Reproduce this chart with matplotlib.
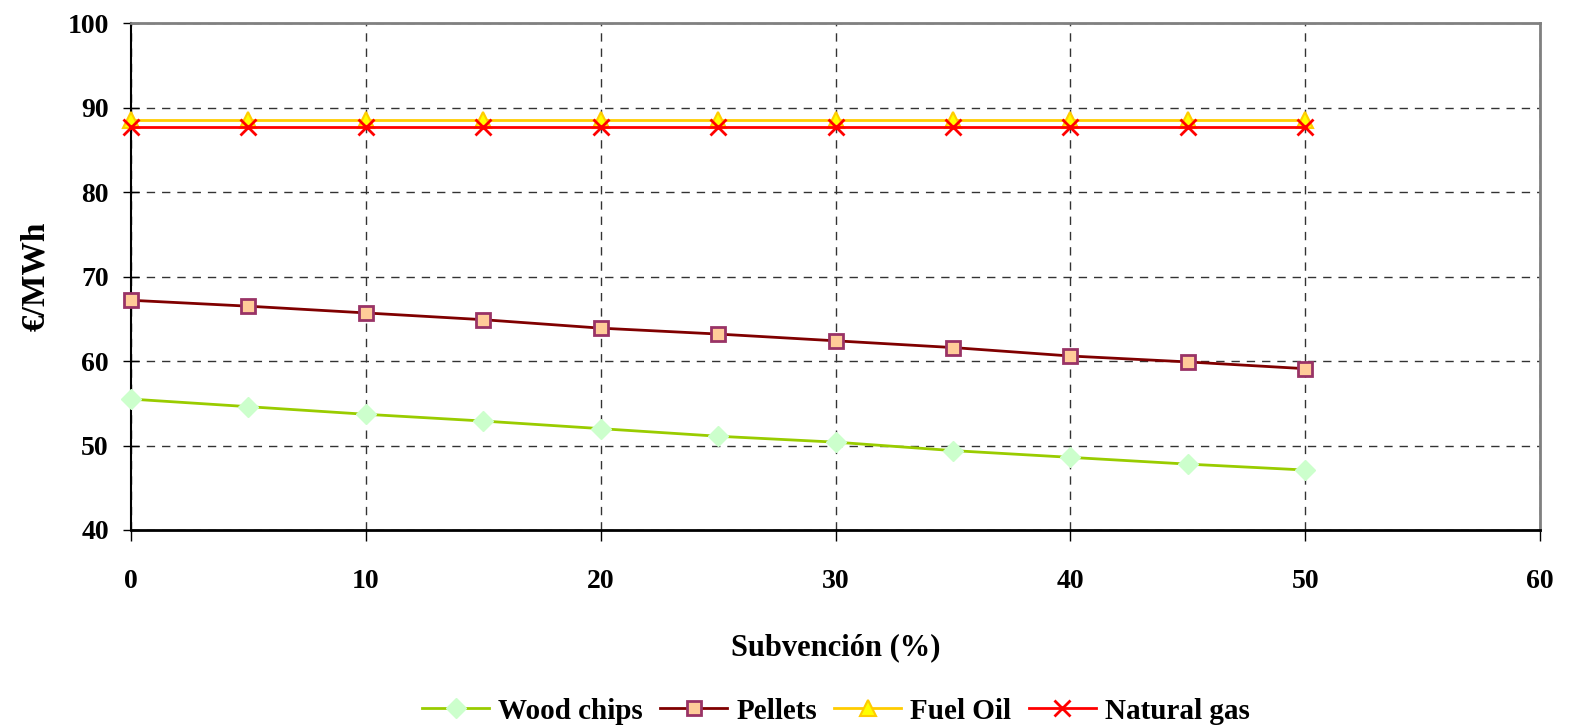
import matplotlib
matplotlib.use("Agg")
import matplotlib.pyplot as plt

# subsidy percentage (x axis)
subsidy = [0, 5, 10, 15, 20, 25, 30, 35, 40, 45, 50]

# cost in EUR/MWh
wood_chips = [55.5, 54.6, 53.7, 52.9, 52.0, 51.1, 50.4, 49.4, 48.6, 47.8, 47.1]
pellets = [67.2, 66.5, 65.7, 64.9, 63.9, 63.2, 62.4, 61.6, 60.6, 59.9, 59.1]
fuel_oil = [88.5] * 11
natural_gas = [87.7] * 11

plt.rcParams['font.family'] = ['Liberation Serif', 'DejaVu Serif']
plt.rcParams['font.weight'] = 'bold'

fig = plt.figure(figsize=(15.71, 7.27), dpi=100)
ax = fig.add_axes([0.0834, 0.271, 0.8969, 0.697])

ax.plot(subsidy, wood_chips, color="#99CC00", lw=2, marker="D", ms=10,
        mfc="#CCFFCC", mec="#CCFFCC", label="Wood chips", zorder=3, clip_on=False)
ax.plot(subsidy, pellets, color="#800000", lw=2, marker="s", ms=10,
        mfc="#FFCC99", mec="#993366", mew=2, label="Pellets", zorder=3, clip_on=False)
ax.plot(subsidy, fuel_oil, color="#FFCC00", lw=2, marker="^", ms=11,
        mfc="#FFFF00", mec="#FFCC00", mew=1.5, label="Fuel Oil", zorder=3, clip_on=False)
ax.plot(subsidy, natural_gas, color="#FF0000", lw=2, marker="x", ms=12,
        mec="#FF0000", mew=2, label="Natural gas", zorder=4, clip_on=False)

ax.set_xlim(0, 60)
ax.set_ylim(40, 100)
ax.set_xticks(range(0, 61, 10))
ax.set_yticks(range(40, 101, 10))
ax.grid(True, color="#333333", ls=(0, (6, 5)), lw=1)

ax.spines['top'].set_color('#808080')
ax.spines['right'].set_color('#808080')
ax.spines['top'].set_linewidth(2)
ax.spines['right'].set_linewidth(2)
ax.spines['left'].set_linewidth(1.5)
ax.spines['bottom'].set_linewidth(2)

ax.tick_params(axis='y', direction='inout', length=12, width=1, labelsize=20, pad=10)
ax.tick_params(axis='x', direction='out', length=8, width=1, labelsize=20, pad=20)
for lab in ax.get_xticklabels() + ax.get_yticklabels():
    lab.set_fontweight('bold')

ax.set_xlabel("Subvención (%)", fontsize=22, fontweight='bold', labelpad=28)
ax.set_ylabel("€/MWh", fontsize=24, fontweight='bold', labelpad=12)

leg = fig.legend(loc='center', bbox_to_anchor=(0.532, 0.022), ncol=4, frameon=False,
                 prop={'size': 21, 'weight': 'bold'}, handlelength=2.3,
                 handletextpad=0.3, columnspacing=0.6)

fig.savefig("out.png", dpi=100)
